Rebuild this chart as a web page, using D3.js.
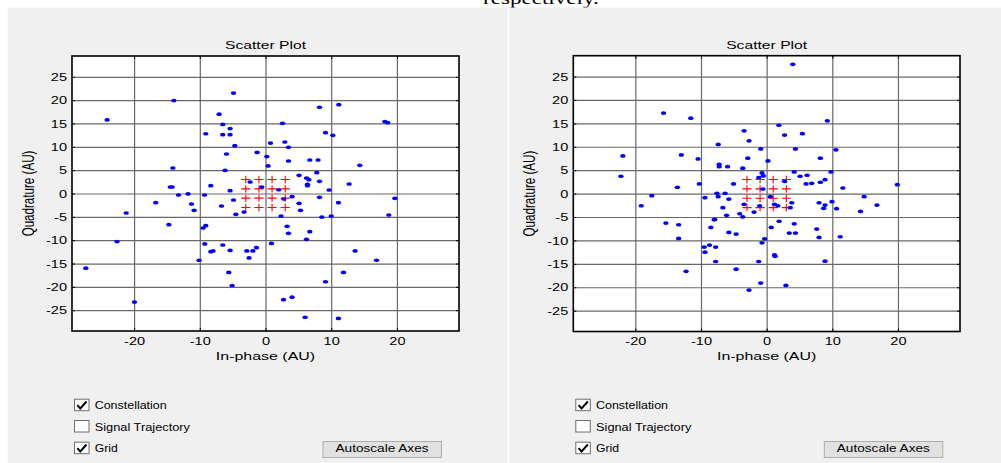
<!DOCTYPE html>
<html><head><meta charset="utf-8">
<script src="https://cdn.jsdelivr.net/npm/d3@7"></script>
<style>
html,body{margin:0;padding:0;background:#fff;}
svg{display:block;}
text{font-family:"Liberation Sans",Arial,sans-serif;}
</style></head><body>
<svg id="c" width="1001" height="463"></svg>
<script>
// ---------- data ----------
const xTicks = [-20, -10, 0, 10, 20];
const yTicks = [-25, -20, -15, -10, -5, 0, 5, 10, 15, 20, 25];
const axisLimit = [-29.45, 29.45];
const refI = [-3, -1, 1, 3];
const refQ = [-3, -1, 1, 3];
const titleText = "Scatter Plot";
const xLabelText = "In-phase (AU)";
const yLabelText = "Quadrature (AU)";
const checkLabels = ["Constellation", "Signal Trajectory", "Grid"];
const checkStates = [true, false, true];
const buttonText = "Autoscale Axes";

const leftPoints = [
 [-24.1,15.75],[-13.96,19.9],[-4.87,21.5],[-7.06,17.0],[-6.5,14.8],[-5.39,13.9],[-9.09,12.8],
 [-6.5,12.6],[-5.39,12.6],[-4.67,10.25],[-5.94,8.46],[-1.27,8.8],[0.76,10.8],[0.2,7.9],[0.4,5.9],
 [-14.1,5.46],[-6.15,4.97],[-14.5,1.39],[-14.2,1.39],[-8.33,1.67],[-2.34,2.46],[-0.56,1.39],[2.0,0.8],
 [-13.24,-0.32],[-11.78,-0.1],[-9.28,-0.32],[-5.39,0.6],[-16.7,-1.96],[-11.26,-2.25],[-10.86,-3.6],
 [-6.7,-2.68],[-4.87,-1.39],[-21.2,-4.18],[-4.52,-4.46],[-3.26,-3.96],[2.37,-4.82],[11.16,19.03],
 [8.22,18.47],[2.59,15.04],[18.16,15.4],[18.6,15.2],[9.13,13.03],[10.24,12.47],[2.94,11.03],[3.5,9.9],
 [3.5,6.96],[6.74,7.18],[8.0,7.18],[14.35,6.04],[7.8,4.46],[5.11,3.9],[6.24,3.32],[6.6,2.96],[8.22,2.6],
 [6.39,1.96],[6.39,1.67],[12.73,2.04],[9.68,0.75],[4.05,-0.68],[2.79,-1.18],[8.22,-0.82],[19.68,-1.03],
 [5.11,-2.1],[11.1,-1.96],[5.33,-3.6],[8.57,-5.04],[10.0,-4.82],[18.77,-4.6],[-14.7,-6.68],[-22.6,-10.3],
 [-27.35,-16.0],[-19.94,-23.25],[-9.5,-7.39],[-9.09,-6.9],[-9.24,-10.8],[-6.5,-11.03],[-8.33,-12.47],
 [-7.98,-12.3],[-5.39,-12.2],[-10.1,-14.3],[-2.85,-12.3],[-1.93,-12.3],[-1.37,-11.6],[-2.5,-13.8],
 [0.91,-10.7],[-5.59,-16.9],[-5.08,-19.7],[3.29,-7.04],[3.5,-8.53],[6.74,-8.18],[6.24,-9.82],
 [13.64,-12.3],[16.9,-14.3],[11.87,-16.9],[9.13,-18.9],[2.74,-22.75],[4.05,-22.2],[6.03,-26.5],[11.1,-26.75]
];

const rightPoints = [
 [-22.2,3.7],[-21.9,8.05],[-15.7,17.2],[-11.56,16.1],[-19.1,-2.6],[-17.5,-0.45],[-13.6,1.35],[-13.0,8.27],
 [-10.45,7.4],[-10.26,2.06],[-9.39,-0.87],[-7.38,10.5],[-7.23,6.27],[-7.23,5.76],[-5.95,5.76],[-3.44,13.4],
 [-2.68,11.26],[-0.9,9.55],[-2.88,7.56],[0.2,6.98],[-3.64,5.42],[-0.71,4.41],[-0.5,3.77],[-1.21,3.4],
 [1.86,14.6],[-5.05,2.06],[-7.58,0.06],[-7.38,-0.66],[-6.32,0.06],[-5.76,-1.16],[-6.67,-3.0],[-6.1,-4.65],
 [-4.1,-4.3],[-3.64,-4.95],[-3.44,-2.3],[-1.92,-3.94],[-1.06,-2.6],[-0.56,0.98],[0.56,-0.66],[1.2,-2.3],
 [1.7,-2.6],[-7.92,-5.5],[3.98,27.6],[9.24,15.55],[2.73,12.5],[5.45,12.8],[4.39,9.55],[10.56,9.34],
 [8.18,7.56],[4.2,4.63],[9.8,4.63],[5.1,3.7],[6.17,3.92],[6.0,2.06],[6.86,2.2],[8.18,2.42],[8.89,2.98],
 [11.6,1.2],[19.9,1.9],[2.73,2.63],[14.85,-0.66],[16.8,-2.44],[3.83,-1.95],[7.98,-1.95],[8.89,-2.44],
 [8.68,-3.15],[9.95,-1.73],[10.65,-3.23],[14.3,-3.8],[3.6,-3.0],[-15.35,-6.3],[-13.4,-6.65],[-13.4,-9.57],
 [-12.27,-16.6],[-9.5,-11.43],[-8.7,-11.0],[-7.77,-11.43],[-9.39,-12.5],[-7.77,-14.5],[-8.5,-7.22],
 [-7.98,-5.58],[-5.76,-8.3],[-4.65,-8.65],[-4.65,-16.15],[-2.68,-20.6],[-1.21,-14.5],[-0.91,-19.1],
 [-0.71,-10.5],[-0.3,-9.65],[0.7,-7.22],[1.2,-13.1],[1.3,-13.4],[1.9,-5.9],[4.2,-6.45],[3.44,-8.44],
 [4.39,-8.44],[7.62,-7.58],[7.98,-9.36],[11.2,-9.22],[8.89,-14.43],[2.93,-19.6]
];

// ---------- drawing ----------
const S = 1.4; // horizontal stretch of the reference picture
const svg = d3.select("#c");
const fmt = d => String(d); // plain hyphen minus, as in the reference

svg.append("rect").attr("x",0).attr("y",0).attr("width",1001).attr("height",463).attr("fill","#fff");
svg.append("text").attr("transform",`translate(483,4) scale(${S},1)`)
  .style("font-family","'Liberation Serif','Times New Roman',serif").style("font-size","16.5px")
  .attr("fill","#000").text("respectively.");
svg.append("rect").attr("x",7.5).attr("y",7.5).attr("width",1001-7.5).attr("height",463-7.5).attr("fill","#f0f0f0");
svg.append("rect").attr("x",507.6).attr("y",7.5).attr("width",1.5).attr("height",463-7.5).attr("fill","#ffffff");

function panel(cfg){
  const g = svg.append("g");
  const W = cfg.x1-cfg.x0, H = cfg.y1-cfg.y0;
  const x = d3.scaleLinear().domain(axisLimit).range([cfg.x0,cfg.x1]);
  const y = d3.scaleLinear().domain(axisLimit).range([cfg.y1,cfg.y0]);

  g.append("rect").attr("x",cfg.x0).attr("y",cfg.y0).attr("width",W).attr("height",H).attr("fill","#fff");

  // grid
  const gridStyle = s=>{s.select(".domain").remove(); s.selectAll("line").attr("stroke","#686868").attr("stroke-width",1.2);};
  g.append("g").attr("transform",`translate(0,${cfg.y1})`)
    .call(d3.axisBottom(x).tickValues(xTicks).tickSize(-H).tickFormat(""))
    .call(gridStyle);
  g.append("g").attr("transform",`translate(${cfg.x0},0)`)
    .call(d3.axisLeft(y).tickValues(yTicks).tickSize(-W).tickFormat(""))
    .call(gridStyle);

  // reference constellation (red +)
  const ref = d3.cross(refI, refQ);
  g.append("g").selectAll("path").data(ref).join("path")
    .attr("d", d=>{const cx=x(d[0]), cy=y(d[1]); return `M${cx-4.6},${cy}H${cx+4.6}M${cx},${cy-3.7}V${cy+3.7}`;})
    .attr("stroke","#ff0000").attr("stroke-width",1.1).attr("fill","none");

  // received symbols
  g.append("g").selectAll("ellipse").data(cfg.data).join("ellipse")
    .attr("cx",d=>x(d[0])).attr("cy",d=>y(d[1])).attr("rx",2.7).attr("ry",1.85).attr("fill","#0000ff");

  // axes with inward ticks
  const styleTicks = s=>{s.select(".domain").remove(); s.selectAll("line").attr("stroke","#000").attr("stroke-width",1);};
  g.append("g").attr("transform",`translate(0,${cfg.y1})`)
    .call(d3.axisBottom(x).tickValues(xTicks).tickSize(-3).tickFormat(fmt))
    .call(styleTicks)
    .call(s=>s.selectAll("text").attr("y",14).attr("dy",null).attr("transform",`scale(${S},1)`)
       .attr("fill","#000").style("font-size","10.4px").style("font-family","'Liberation Sans',Arial,sans-serif"));
  g.append("g").attr("transform",`translate(0,${cfg.y0})`)
    .call(d3.axisTop(x).tickValues(xTicks).tickSize(-3).tickFormat(""))
    .call(styleTicks);
  g.append("g").attr("transform",`translate(${cfg.x0},0)`)
    .call(d3.axisLeft(y).tickValues(yTicks).tickSize(-3).tickFormat(fmt))
    .call(styleTicks)
    .call(s=>s.selectAll("text").attr("x",-5/S).attr("dy","0.35em").attr("transform",`scale(${S},1)`)
       .attr("fill","#000").style("font-size","10.4px").style("font-family","'Liberation Sans',Arial,sans-serif"));
  g.append("g").attr("transform",`translate(${cfg.x1},0)`)
    .call(d3.axisRight(y).tickValues(yTicks).tickSize(-3).tickFormat(""))
    .call(styleTicks);

  g.append("rect").attr("x",cfg.x0).attr("y",cfg.y0).attr("width",W).attr("height",H)
    .attr("fill","none").attr("stroke","#000").attr("stroke-width",1.6);

  const cx = (cfg.x0+cfg.x1)/2, cy=(cfg.y0+cfg.y1)/2;
  g.append("text").attr("transform",`translate(${cx},48.5) scale(${S},1)`).attr("text-anchor","middle")
    .style("font-size","11.2px").attr("fill","#000").text(titleText);
  g.append("text").attr("transform",`translate(${cx},360) scale(${S},1)`).attr("text-anchor","middle")
    .style("font-size","11.4px").attr("fill","#000").text(xLabelText);
  g.append("text").attr("transform",`translate(${cfg.x0-38.5},${cy}) scale(${S},1) rotate(-90)`).attr("text-anchor","middle")
    .style("font-size","11.6px").attr("fill","#000").text(yLabelText);

  // controls
  const ox = cfg.x0 - 72;
  const boxY = [398.7, 420, 441.7];
  const baseY = [408.7, 430.7, 452];
  const lens = [72, 95.3, 23];
  checkLabels.forEach((lab,i)=>{
    g.append("rect").attr("x",74.5+ox).attr("y",boxY[i]+0.5).attr("width",14.5).attr("height",11.5)
      .attr("fill","#fff").attr("stroke","#6f6f6f").attr("stroke-width",1);
    if(checkStates[i]){
      const bx=74.5+ox, by=boxY[i]+0.5;
      g.append("path").attr("d",`M${bx+2.8},${by+6}L${bx+5.8},${by+9.3}L${bx+12},${by+2.3}`)
        .attr("fill","none").attr("stroke","#000").attr("stroke-width",1.9);
    }
    g.append("text").attr("x",94.7+ox).attr("y",baseY[i]).style("font-size","10.2px")
      .attr("textLength",lens[i]).attr("lengthAdjust","spacingAndGlyphs").attr("fill","#000").text(lab);
  });
  g.append("rect").attr("x",323+ox).attr("y",441.5).attr("width",118.5).attr("height",16)
    .attr("fill","#e1e1e1").attr("stroke","#adadad").attr("stroke-width",1);
  g.append("text").attr("x",382+ox).attr("y",452).attr("text-anchor","middle").style("font-size","10.2px")
    .attr("textLength",93).attr("lengthAdjust","spacingAndGlyphs").attr("fill","#000").text(buttonText);
}

panel({x0:72, x1:459, y0:56, y1:331, data:leftPoints});
panel({x0:573.3, x1:960, y0:55.7, y1:331.5, data:rightPoints});
</script>
</body></html>
